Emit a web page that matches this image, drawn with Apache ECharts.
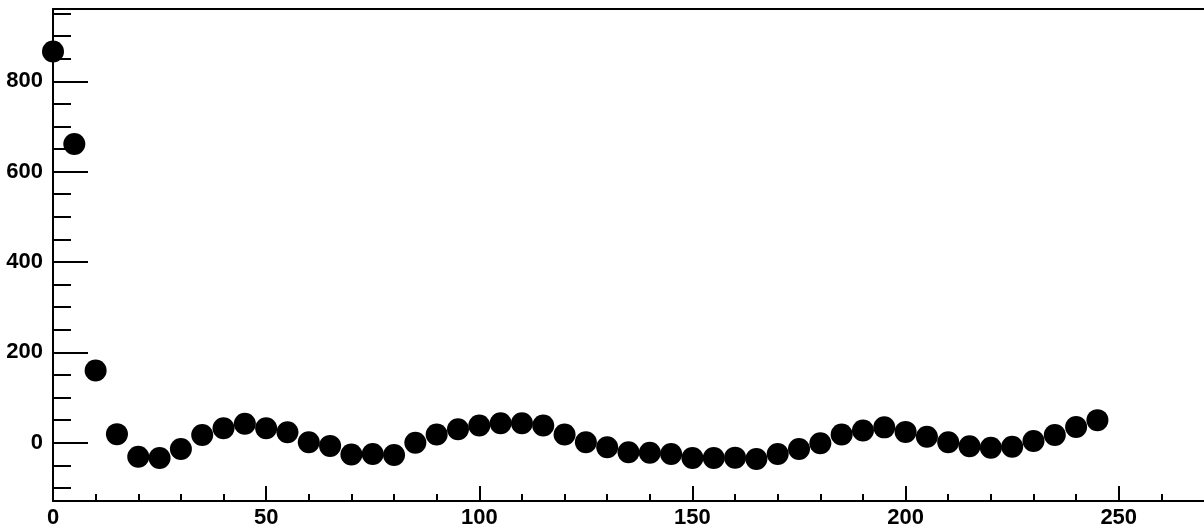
<!DOCTYPE html>
<html>
<head>
<meta charset="utf-8">
<style>
  html, body { margin: 0; padding: 0; background: #fff; }
  #chart { width: 1204px; height: 529px; }
</style>
<script src="https://cdn.jsdelivr.net/npm/echarts@6/dist/echarts.min.js"></script>
</head>
<body>
<div id="chart"></div>
<script>
// Sample positions and measured values
const xValues = [0, 5, 10, 15, 20, 25, 30, 35, 40, 45,
                 50, 55, 60, 65, 70, 75, 80, 85, 90, 95,
                 100, 105, 110, 115, 120, 125, 130, 135, 140, 145,
                 150, 155, 160, 165, 170, 175, 180, 185, 190, 195,
                 200, 205, 210, 215, 220, 225, 230, 235, 240, 245];
const yValues = [866, 661, 160, 19, -31, -34, -14, 17, 32, 42,
                 32, 23, 1, -7, -26, -25, -27, 0, 18, 30,
                 38, 43, 43, 38, 18, 1, -10, -21, -22, -25,
                 -34, -34, -33, -36, -25, -14, -1, 18, 27, 34,
                 24, 13, 1, -8, -11, -9, 4, 17, 35, 50];

// Axis ticks and labels
const xMajorTicks = [0, 50, 100, 150, 200, 250];
const xMinorTicks = [10, 20, 30, 40, 60, 70, 80, 90, 110, 120, 130, 140,
                     160, 170, 180, 190, 210, 220, 230, 240, 260];
const yMajorTicks = [0, 200, 400, 600, 800];
const yMinorTicks = [-100, -50, 50, 100, 150, 250, 300, 350, 450, 500,
                     550, 650, 700, 750, 850, 900, 950];

const X_MIN = 0, X_MAX = 270;
const Y_MIN = -129, Y_MAX = 960;

const labelFont = {
  fontFamily: 'Liberation Sans, Arial, Helvetica, sans-serif',
  fontWeight: 'bold',
  fontSize: 22,
  color: '#000'
};
const lineStyle = { color: '#000', width: 2 };

const points = xValues.map((x, i) => [x, yValues[i]]);

const chart = echarts.init(document.getElementById('chart'), null, { renderer: 'canvas' });
chart.setOption({
  animation: false,
  backgroundColor: '#fff',
  grid: { left: 53, right: -7, top: 9, bottom: 27, containLabel: false },
  xAxis: [
    {
      type: 'value', min: X_MIN, max: X_MAX, position: 'bottom',
      axisLine: { show: true, onZero: false, lineStyle: lineStyle },
      axisTick: { show: true, inside: true, length: 15, lineStyle: lineStyle,
                  customValues: xMajorTicks },
      axisLabel: Object.assign({ show: true, margin: 6, customValues: xMajorTicks }, labelFont),
      splitLine: { show: false }
    },
    {
      type: 'value', min: X_MIN, max: X_MAX, position: 'bottom',
      axisLine: { show: false, onZero: false },
      axisTick: { show: true, inside: true, length: 7, lineStyle: lineStyle,
                  customValues: xMinorTicks },
      axisLabel: { show: false },
      splitLine: { show: false }
    },
    {
      type: 'value', min: X_MIN, max: X_MAX, position: 'top',
      axisLine: { show: true, onZero: false, lineStyle: lineStyle },
      axisTick: { show: false },
      axisLabel: { show: false },
      splitLine: { show: false }
    }
  ],
  yAxis: [
    {
      type: 'value', min: Y_MIN, max: Y_MAX, position: 'left',
      axisLine: { show: true, onZero: false, lineStyle: lineStyle },
      axisTick: { show: true, inside: true, length: 35, lineStyle: lineStyle,
                  customValues: yMajorTicks },
      axisLabel: Object.assign({ show: true, margin: 10, customValues: yMajorTicks }, labelFont),
      splitLine: { show: false }
    },
    {
      type: 'value', min: Y_MIN, max: Y_MAX, position: 'left',
      axisLine: { show: false, onZero: false },
      axisTick: { show: true, inside: true, length: 18, lineStyle: lineStyle,
                  customValues: yMinorTicks },
      axisLabel: { show: false },
      splitLine: { show: false }
    }
  ],
  series: [
    {
      type: 'scatter',
      xAxisIndex: 0,
      yAxisIndex: 0,
      data: points,
      symbol: 'circle',
      symbolSize: 22,
      clip: false,
      itemStyle: { color: '#000', opacity: 1 },
      z: 5
    }
  ]
});
</script>
</body>
</html>
